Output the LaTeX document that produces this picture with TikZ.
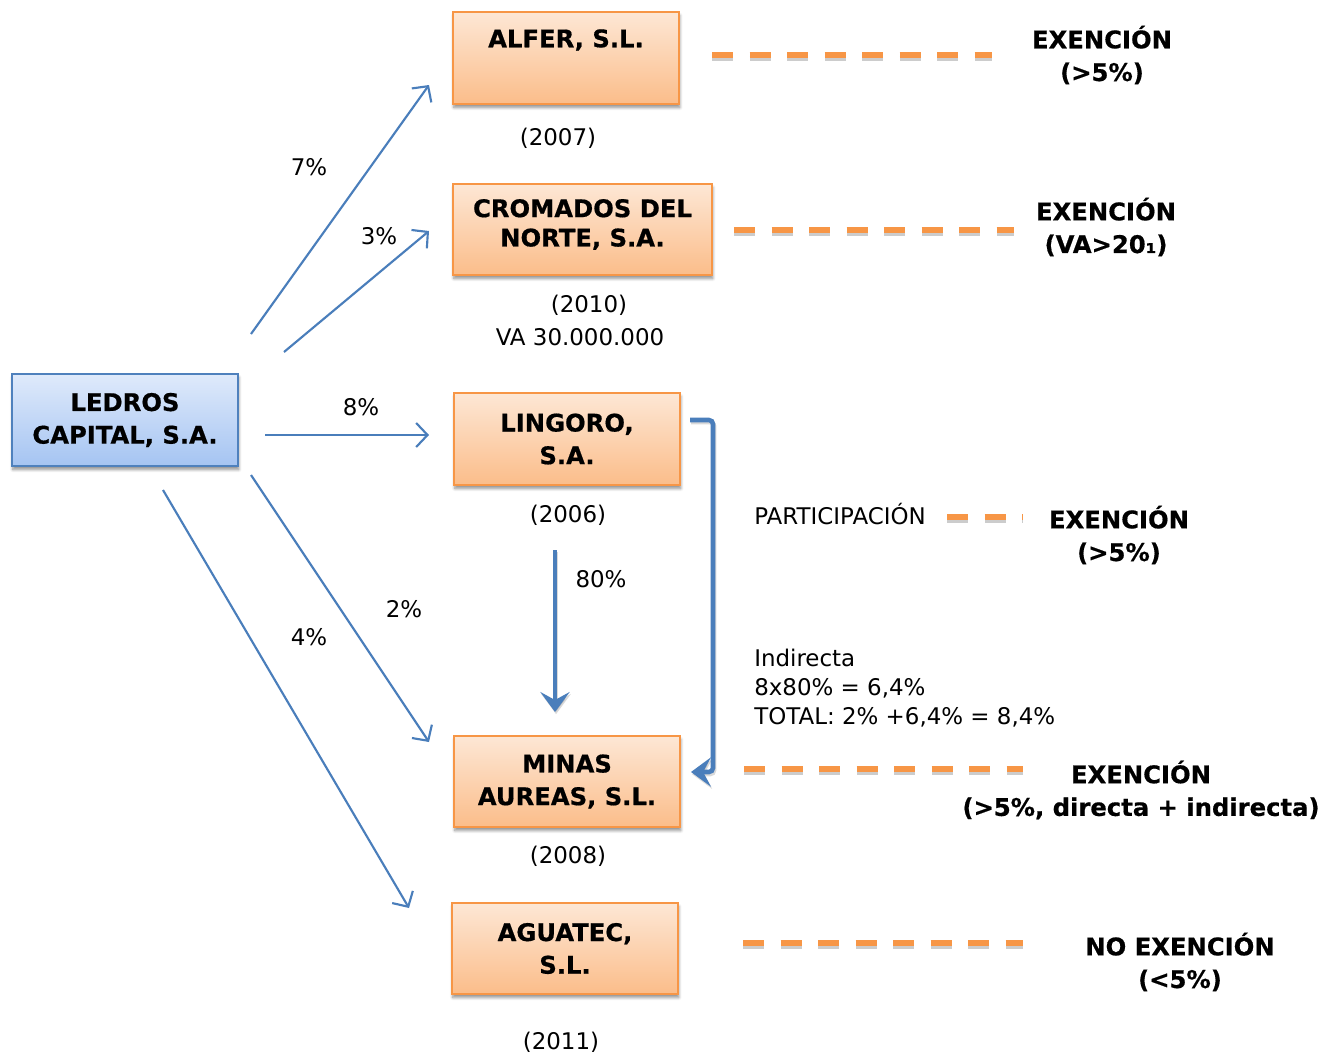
\documentclass[tikz,border=0pt]{standalone}
\usepackage{fontspec}
\setmainfont{DejaVu Sans}[BoldFeatures={FakeBold=0.6}]
\usetikzlibrary{arrows.meta,shadows.blur}

\definecolor{boxorange}{HTML}{F79646}
\definecolor{orangetop}{HTML}{FDE7D5}
\definecolor{orangebot}{HTML}{FBBD8A}
\definecolor{bluetop}{HTML}{DFEAFB}
\definecolor{bluebot}{HTML}{A5C4F2}
\definecolor{blueedge}{HTML}{4F81BD}
\definecolor{arrowblue}{HTML}{4A7EBB}

\newcommand\boxfont{\fontsize{18.2}{24.5}\selectfont\bfseries}
\newcommand\notefont{\fontsize{17.2}{21.75}\selectfont}

\tikzset{
  company/.style={draw=boxorange, line width=1.4pt, top color=orangetop,
    bottom color=orangebot, align=center, font=\boxfont, inner sep=0pt,
    blur shadow={shadow xshift=0.6pt, shadow yshift=-2.6pt,
      shadow blur steps=6, shadow opacity=45}},
  parent/.style={company, draw=blueedge, top color=bluetop, bottom color=bluebot},
  holding/.style={draw=arrowblue, line width=1.6pt,
    -{Straight Barb[length=8.5pt,width=18pt]}},
  thickarrow/.style={draw=arrowblue, line width=3.4pt,
    -{Stealth[length=15pt,width=22pt,inset=6pt]},
    preaction={draw=black, opacity=0.15, line width=3.4pt,
      transform canvas={xshift=0.8pt,yshift=-1.6pt}}},
  link/.style={draw=boxorange, line width=3.8pt,
    dash pattern=on 15.75pt off 12.4pt,
    preaction={draw=black, opacity=0.2, line width=3.8pt,
      dash pattern=on 15.75pt off 12.4pt,
      transform canvas={yshift=-2.6pt}}},
  note/.style={font=\notefont, inner sep=0pt},
  verdict/.style={font=\boxfont, align=center, inner sep=0pt},
  boxname/.style={font=\boxfont, align=center, inner sep=0pt},
}

\begin{document}
\begin{tikzpicture}[x=0.75pt, y=-0.75pt]
\useasboundingbox (0,0) rectangle (1336,1057);

% companies
\node[parent,  minimum width=169.5pt,  minimum height=69pt]    (ledros)   at (125,420)   {LEDROS\\CAPITAL, S.A.};
\node[company, minimum width=169.5pt,  minimum height=69pt]    (alfer)    at (566,58)    {};
\node[boxname] (alfer-name) at (566,40) {ALFER, S.L.};
\node[company, minimum width=194.25pt, minimum height=68.25pt] (cromados) at (582.5,229.5) {};
\node[boxname] (cromados-name) at (582.5,224.5) {CROMADOS DEL\\[-2.5pt]NORTE, S.A.};
\node[company, minimum width=169.5pt,  minimum height=69pt]    (lingoro)  at (567,439)   {LINGORO,\\S.A.};
\node[company, minimum width=169.5pt,  minimum height=68.25pt] (minas)    at (567,781.5) {MINAS\\AUREAS, S.L.};
\node[company, minimum width=169.5pt,  minimum height=68.25pt] (aguatec)  at (565,948.5) {AGUATEC,\\S.L.};

% years and values
\node[note] (y2007) at (558,138)  {(2007)};
\node[note] (y2010) at (589,305)  {(2010)};
\node[note] (va)    at (580,337)  {VA 30.000.000};
\node[note] (y2006) at (568,515)  {(2006)};
\node[note] (y2008) at (568,856)  {(2008)};
\node[note] (y2011) at (561,1042) {(2011)};

% direct holdings
\coordinate (s1) at (251,334); \coordinate (e1) at (429,85);
\coordinate (s2) at (284,352); \coordinate (e2) at (429,231);
\coordinate (s3) at (265,435); \coordinate (e3) at (429,435);
\coordinate (s4) at (251,475); \coordinate (e4) at (429,742);
\coordinate (s5) at (163,490); \coordinate (e5) at (409,908);
\draw[holding] (s1) -- (e1);
\draw[holding] (s2) -- (e2);
\draw[holding] (s3) -- (e3);
\draw[holding] (s4) -- (e4);
\draw[holding] (s5) -- (e5);
\node[note] (p7) at (309,167) {7\%};
\node[note] (p3) at (379,236) {3\%};
\node[note] (p8) at (361,407) {8\%};
\node[note] (p2) at (404,609) {2\%};
\node[note] (p4) at (309,637) {4\%};

% indirect holding through LINGORO
\coordinate (v1) at (555,550); \coordinate (v2) at (555,712);
\draw[thickarrow] (v1) -- (v2);
\node[note] (p80) at (601,579) {80\%};
\coordinate (b1) at (690,420); \coordinate (b2) at (713,420);
\coordinate (b3) at (713,772); \coordinate (b4) at (691,772);
\draw[thickarrow, rounded corners=3pt] (b1) -- (b2) -- (b3) -- (b4);

\node[note, anchor=west] (part) at (754,514) {PARTICIPACIÓN};
\node[note, anchor=west, align=left] (indir) at (754,688)
  {Indirecta\\8x80\% = 6,4\%\\TOTAL: 2\% +6,4\% = 8,4\%};

% tax treatment
\coordinate (l1a) at (712,55);  \coordinate (l1b) at (992,55);
\coordinate (l2a) at (734,230); \coordinate (l2b) at (1014,230);
\coordinate (l3a) at (947,517); \coordinate (l3b) at (1023,517);
\coordinate (l4a) at (744,769); \coordinate (l4b) at (1023,769);
\coordinate (l5a) at (743,943); \coordinate (l5b) at (1023,943);
\draw[link] (l1a) -- (l1b);
\draw[link] (l2a) -- (l2b);
\draw[link] (l3a) -- (l3b);
\draw[link] (l4a) -- (l4b);
\draw[link] (l5a) -- (l5b);

\node[verdict] (v-alfer)    at (1102,55)  {EXENCIÓN\\(>5\%)};
\node[verdict] (v-cromados) at (1106,227) {EXENCIÓN\\(VA>20₁)};
\node[verdict] (v-lingoro)  at (1119,535) {EXENCIÓN\\(>5\%)};
\node[verdict] (v-minas)    at (1141,790) {EXENCIÓN\\(>5\%, directa + indirecta)};
\node[verdict] (v-aguatec)  at (1180,962) {NO EXENCIÓN\\(<5\%)};
\end{tikzpicture}
\end{document}
